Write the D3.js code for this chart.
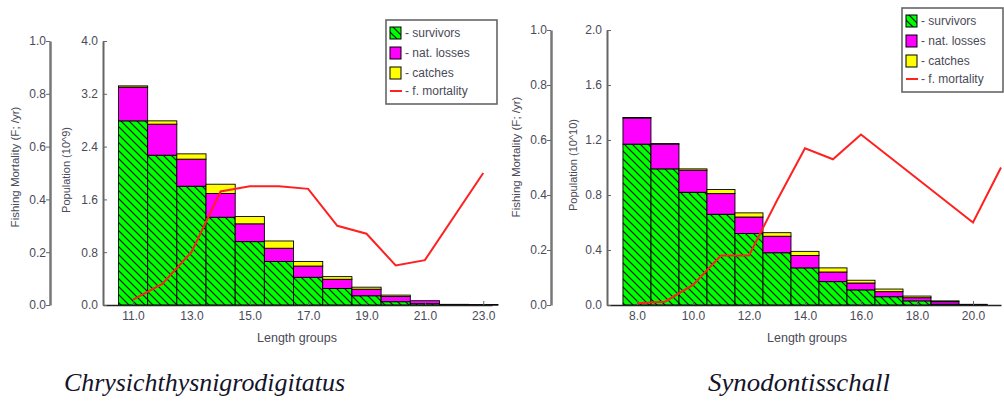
<!DOCTYPE html>
<html>
<head>
<meta charset="utf-8">
<script src="https://cdn.jsdelivr.net/npm/d3@7"></script>
<style>
  body { margin: 0; background: #fff; }
  svg { display: block; font-family: "Liberation Sans", Arial, sans-serif; }
</style>
</head>
<body>
<svg id="chart" width="1004" height="401"></svg>
<script>
// ---- data: Chrysichthys nigrodigitatus (population in 10^9) ----
const leftLengths = [11, 12, 13, 14, 15, 16, 17, 18, 19, 20, 21, 22, 23]
const leftSurvivors = [2.79, 2.27, 1.80, 1.33, 0.96, 0.66, 0.42, 0.25, 0.14, 0.05, 0.02, 0.004, 0.002]
const leftNatLosses = [0.51, 0.47, 0.41, 0.36, 0.27, 0.20, 0.17, 0.14, 0.10, 0.08, 0.045, 0.004, 0.002]
const leftCatches = [0.02, 0.05, 0.08, 0.14, 0.11, 0.11, 0.07, 0.04, 0.03, 0.02, 0.0, 0.002, 0.001]
const leftFLengths = [11, 12, 13, 14, 15, 16, 17, 18, 19, 20, 21, 23]
const leftF = [0.02, 0.08, 0.20, 0.43, 0.45, 0.45, 0.44, 0.30, 0.27, 0.15, 0.17, 0.50]
const leftXTicks = [11, 13, 15, 17, 19, 21, 23]
const leftPopTicks = [0, 0.8, 1.6, 2.4, 3.2, 4.0]

// ---- data: Synodontis schall (population in 10^10) ----
const rightLengths = [8, 9, 10, 11, 12, 13, 14, 15, 16, 17, 18, 19, 20]
const rightSurvivors = [1.17, 0.99, 0.82, 0.66, 0.52, 0.38, 0.27, 0.17, 0.11, 0.06, 0.03, 0.006, 0.002]
const rightNatLosses = [0.19, 0.18, 0.16, 0.15, 0.12, 0.12, 0.09, 0.07, 0.05, 0.037, 0.023, 0.018, 0.002]
const rightCatches = [0.004, 0.004, 0.01, 0.03, 0.03, 0.026, 0.03, 0.03, 0.02, 0.019, 0.012, 0.006, 0.001]
const rightFLengths = [8, 9, 10, 11, 12, 13, 14, 15, 16, 17, 18, 19, 20, 21]
const rightF = [0.006, 0.012, 0.073, 0.18, 0.18, 0.38, 0.57, 0.53, 0.62, 0.54, 0.46, 0.38, 0.30, 0.50]
const rightXTicks = [8, 10, 12, 14, 16, 18, 20]
const rightPopTicks = [0, 0.4, 0.8, 1.2, 1.6, 2.0]

const fTicks = [0, 0.2, 0.4, 0.6, 0.8, 1.0]
const legendItems = ['- survivors', '- nat. losses', '- catches', '- f. mortality']

const svg = d3.select('#chart')
const textColor = '#4a4a58'

// hatch for survivors
const defs = svg.append('defs')
const pat = defs.append('pattern')
    .attr('id', 'hatch')
    .attr('patternUnits', 'userSpaceOnUse')
    .attr('width', 8).attr('height', 8)
pat.append('rect').attr('width', 8).attr('height', 8).attr('fill', '#00ff00')
pat.append('path')
    .attr('d', 'M-1,-1 L9,9 M-1,7 L1,9 M7,-1 L9,1')
    .attr('stroke', '#111').attr('stroke-width', 1.2)

function drawPanel(p) {
    const x = d3.scaleLinear().domain(p.xDomain).range([p.popAxisX, p.xEnd])
    const yPop = d3.scaleLinear().domain([0, p.popMax]).range([p.bottom, p.top])
    const yF = d3.scaleLinear().domain([0, 1]).range([p.bottom, p.top])
    const bw = x(p.lengths[0] + 1) - x(p.lengths[0])

    const rows = p.lengths.map((l, i) => ({
        l: l,
        s: p.survivors[i],
        n: p.natLosses[i],
        c: p.catches[i]
    }))

    const g = svg.append('g')
    const bars = g.selectAll('.bar').data(rows).join('g')
    // survivors
    bars.append('rect')
        .attr('x', d => x(d.l) - bw / 2)
        .attr('width', bw)
        .attr('y', d => yPop(d.s))
        .attr('height', d => yPop(0) - yPop(d.s))
        .attr('fill', 'url(#hatch)')
        .attr('stroke', '#000').attr('stroke-width', 0.9)
    // natural losses
    bars.append('rect')
        .attr('x', d => x(d.l) - bw / 2)
        .attr('width', bw)
        .attr('y', d => yPop(d.s + d.n))
        .attr('height', d => yPop(d.s) - yPop(d.s + d.n))
        .attr('fill', '#ff00ff')
        .attr('stroke', '#000').attr('stroke-width', 0.9)
    // catches
    bars.append('rect')
        .attr('x', d => x(d.l) - bw / 2)
        .attr('width', bw)
        .attr('y', d => yPop(d.s + d.n + d.c))
        .attr('height', d => yPop(d.s + d.n) - yPop(d.s + d.n + d.c))
        .attr('fill', '#ffff00')
        .attr('stroke', '#000').attr('stroke-width', 0.9)

    // fishing mortality line
    const line = d3.line().x(d => x(d[0])).y(d => yF(d[1]))
    g.append('path')
        .datum(p.fLengths.map((l, i) => [l, p.f[i]]))
        .attr('d', line)
        .attr('fill', 'none')
        .attr('stroke', '#ff2020')
        .attr('stroke-width', 2)

    // x axis
    const xAxis = g.append('g')
        .attr('transform', `translate(0,${p.bottom})`)
        .call(d3.axisBottom(x).tickValues(p.xTicks).tickFormat(d3.format('.1f'))
            .tickSizeInner(-4).tickSizeOuter(0).tickPadding(6))
    xAxis.select('.domain').attr('stroke', '#222').attr('stroke-width', 1.6)

    // population axis
    const popAxis = g.append('g')
        .attr('transform', `translate(${p.popAxisX},0)`)
        .call(d3.axisLeft(yPop).tickValues(p.popTicks).tickFormat(d3.format('.1f'))
            .tickSizeInner(-4).tickSizeOuter(0).tickPadding(5))
    popAxis.select('.domain').attr('stroke', '#666').attr('stroke-width', 2)

    // F axis
    const fAxis = g.append('g')
        .attr('transform', `translate(${p.fAxisX},0)`)
        .call(d3.axisLeft(yF).tickValues(fTicks).tickFormat(d3.format('.1f'))
            .tickSizeInner(4).tickSizeOuter(0).tickPadding(0))
    fAxis.select('.domain').attr('stroke', '#777').attr('stroke-width', 2.5)

    g.selectAll('.tick line').attr('stroke', '#666')
    g.selectAll('.tick text')
        .attr('fill', textColor)
        .style('font-size', '12px')
        .style('font-family', '"Liberation Sans", Arial, sans-serif')

    // axis titles
    g.append('text')
        .attr('transform', `translate(${p.fLabelX},${p.fLabelY}) rotate(-90)`)
        .attr('text-anchor', 'middle')
        .attr('fill', textColor)
        .style('font-size', '11.5px')
        .text('Fishing Mortality (F; /yr)')
    g.append('text')
        .attr('transform', `translate(${p.popLabelX},${p.popLabelY}) rotate(-90)`)
        .attr('text-anchor', 'middle')
        .attr('fill', textColor)
        .style('font-size', '11px')
        .text(p.popLabel)
    g.append('text')
        .attr('x', p.xLabelX).attr('y', p.bottom + 37)
        .attr('text-anchor', 'middle')
        .attr('fill', textColor)
        .style('font-size', '12.5px')
        .text('Length groups')

    // legend
    const lg = g.append('g').attr('transform', `translate(${p.legendX},${p.legendY})`)
    lg.append('rect')
        .attr('width', p.legendW).attr('height', 84)
        .attr('fill', '#fff')
        .attr('stroke', '#666').attr('stroke-width', 1.6)
    const fills = ['url(#hatch)', '#ff00ff', '#ffff00']
    const rowY = [13, 33, 53, 71]
    legendItems.forEach((t, i) => {
        if (i < 3) {
            lg.append('rect')
                .attr('x', 4).attr('y', rowY[i] - 6)
                .attr('width', 11).attr('height', 12)
                .attr('fill', fills[i])
                .attr('stroke', '#000').attr('stroke-width', 1)
        } else {
            lg.append('line')
                .attr('x1', 4).attr('x2', 16)
                .attr('y1', rowY[i]).attr('y2', rowY[i])
                .attr('stroke', '#ff2020').attr('stroke-width', 2)
        }
        lg.append('text')
            .attr('x', 19).attr('y', rowY[i] + 4)
            .attr('fill', textColor)
            .style('font-size', '12px')
            .text(t)
    })

    // species name
    svg.append('text')
        .attr('x', p.nameX).attr('y', 391)
        .attr('textLength', p.nameW)
        .attr('lengthAdjust', 'spacingAndGlyphs')
        .style('font-family', '"Liberation Serif", "Times New Roman", serif')
        .style('font-style', 'italic')
        .style('font-size', '25px')
        .attr('fill', '#14142a')
        .text(p.name)
}

drawPanel({
    lengths: leftLengths, survivors: leftSurvivors, natLosses: leftNatLosses, catches: leftCatches,
    fLengths: leftFLengths, f: leftF, xTicks: leftXTicks, popTicks: leftPopTicks,
    popMax: 4, xDomain: [9.97, 23.3],
    fAxisX: 50, popAxisX: 103, xEnd: 492, top: 41, bottom: 305,
    fLabelX: 19, fLabelY: 167, popLabelX: 70, popLabelY: 170,
    popLabel: 'Population (10^9)', xLabelX: 297,
    legendX: 386, legendY: 20, legendW: 111,
    name: 'Chrysichthysnigrodigitatus', nameX: 64, nameW: 281
})

drawPanel({
    lengths: rightLengths, survivors: rightSurvivors, natLosses: rightNatLosses, catches: rightCatches,
    fLengths: rightFLengths, f: rightF, xTicks: rightXTicks, popTicks: rightPopTicks,
    popMax: 2, xDomain: [6.93, 21],
    fAxisX: 551, popAxisX: 607, xEnd: 1001, top: 30, bottom: 305,
    fLabelX: 520, fLabelY: 157, popLabelX: 577, popLabelY: 165,
    popLabel: 'Population (10^10)', xLabelX: 807,
    legendX: 902, legendY: 8, legendW: 101,
    name: 'Synodontisschall', nameX: 708, nameW: 182
})
</script>
</body>
</html>
